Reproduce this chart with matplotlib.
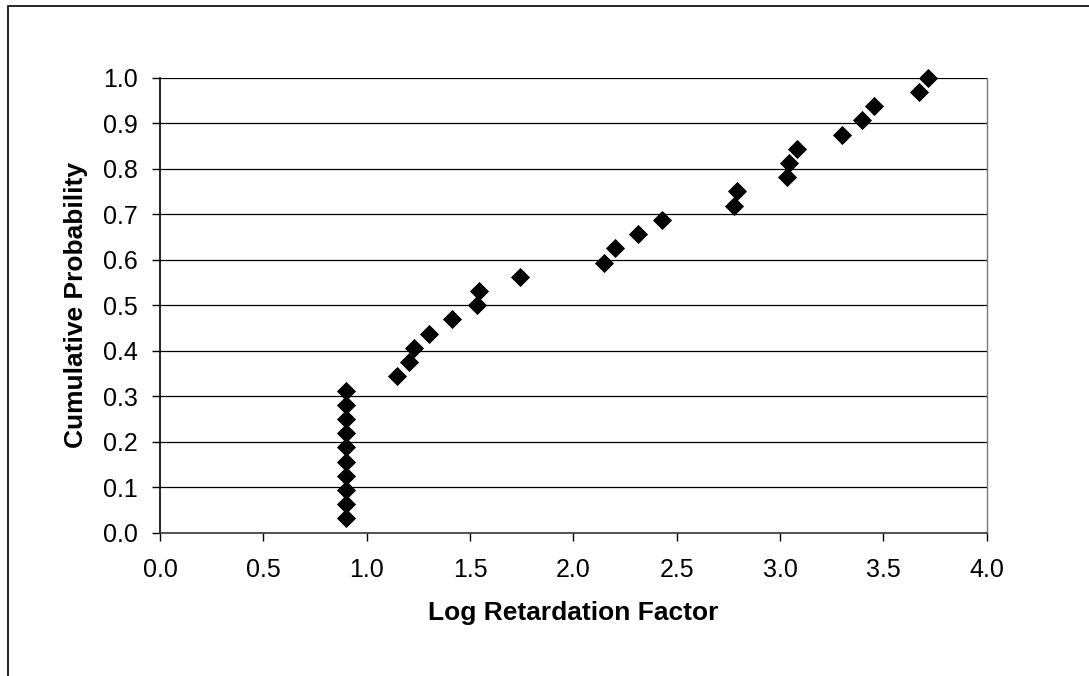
import matplotlib
matplotlib.use("Agg")
import matplotlib.pyplot as plt
import numpy as np
from matplotlib.patches import Rectangle

plt.rcParams["font.family"] = ["Liberation Sans", "DejaVu Sans"]

# ---------- data ----------
log_rf = [0.90, 0.90, 0.90, 0.90, 0.90, 0.90, 0.90, 0.90, 0.90, 0.90,
          1.145, 1.205, 1.23, 1.30, 1.414, 1.532, 1.545, 1.742,
          2.147, 2.203, 2.314, 2.427, 2.778, 2.791, 3.033, 3.044, 3.08,
          3.30, 3.398, 3.453, 3.673, 3.717]
cum_prob = [(i + 1) / 32 for i in range(32)]

x_ticks = [0.0, 0.5, 1.0, 1.5, 2.0, 2.5, 3.0, 3.5, 4.0]
y_ticks = [0.0, 0.1, 0.2, 0.3, 0.4, 0.5, 0.6, 0.7, 0.8, 0.9, 1.0]

# ---------- figure ----------
fig = plt.figure(figsize=(10.89, 6.76), dpi=100)
ax = fig.add_axes([160 / 1089, 1 - 532.7 / 676, (986.7 - 160) / 1089, (532.7 - 77.7) / 676])

# outer chart frame (clipped at right/bottom like the reference)
fig.patches.append(Rectangle((8 / 1089, -0.05), 1.1, 1 - 6 / 676 + 0.05,
                             transform=fig.transFigure, fill=False,
                             edgecolor="black", linewidth=1.2))

ax.scatter(log_rf, cum_prob, marker="D", s=95, color="black", zorder=3,
           clip_on=False, linewidths=0)

ax.set_xlim(0, 4)
ax.set_ylim(0, 1)
ax.set_xticks(x_ticks)
ax.set_yticks(y_ticks)
ax.set_xticklabels([f"{v:.1f}" for v in x_ticks])
ax.set_yticklabels([f"{v:.1f}" for v in y_ticks])

for v in y_ticks[1:]:
    ax.axhline(v, color="black", linewidth=0.9, zorder=1)

ax.spines["top"].set_visible(False)
ax.spines["right"].set_color("#777777")
ax.spines["right"].set_linewidth(1.0)
ax.spines["left"].set_linewidth(1.2)
ax.spines["bottom"].set_linewidth(1.2)
ax.spines["bottom"].set_color("#333333")

ax.tick_params(axis="both", direction="out", length=6, width=1,
               labelsize=18, colors="black")
ax.tick_params(axis="y", pad=10)
ax.tick_params(axis="x", pad=12)

ax.set_xlabel("Log Retardation Factor", fontsize=19, fontweight="bold", va="center")
ax.set_ylabel("Cumulative Probability", fontsize=19, fontweight="bold", va="center")
ax.xaxis.set_label_coords(0.5, (532.7 - 613) / 455)
ax.yaxis.set_label_coords((76 - 160) / 826.7, 0.5)

fig.savefig("out.png", dpi=100)
